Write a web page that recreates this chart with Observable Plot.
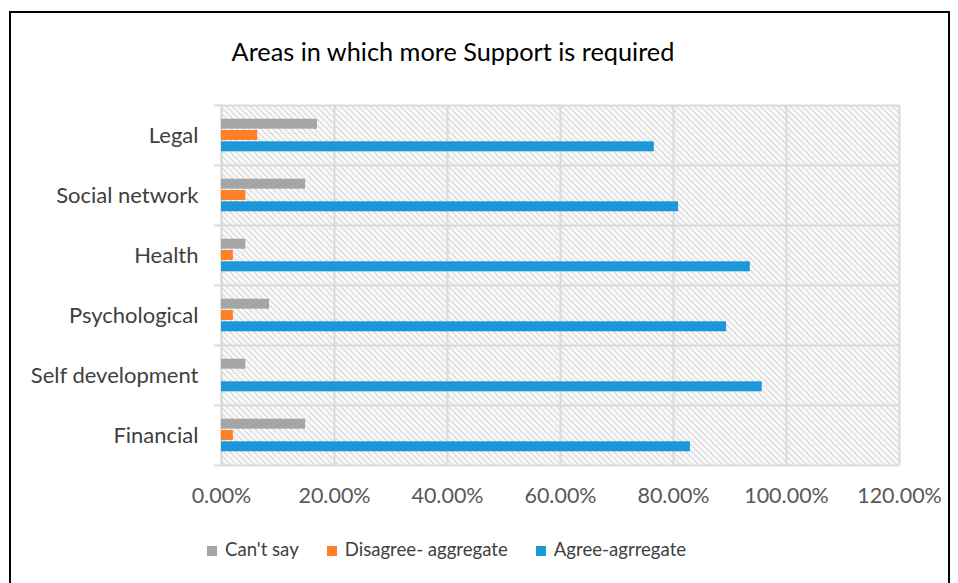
<!DOCTYPE html>
<html>
<head>
<meta charset="utf-8">
<script src="https://cdn.jsdelivr.net/npm/d3@7"></script>
<script src="https://cdn.jsdelivr.net/npm/@observablehq/plot@0.6"></script>
<style>
  html, body { margin: 0; padding: 0; background: #fff; }
  #wrap { position: relative; width: 958px; height: 583px; overflow: hidden; font-family: Lato, "Open Sans", sans-serif; }
  #wrap svg { position: absolute; left: 0; top: 0; }
  #frame { position: absolute; left: 9px; top: 11px; width: 941px; height: 620px; border: 2px solid #000; box-sizing: border-box; }
  #title { position: absolute; left: 0; width: 906px; top: 39px; text-align: center; font-size: 25.3px; color: #000; line-height: 1; }
  #legend { position: absolute; left: 207px; top: 540px; display: flex; font-size: 18.6px; color: #404040; line-height: 1; }
  #legend .item { display: flex; align-items: center; margin-right: 28px; }
  #legend .sw { width: 10px; height: 10px; margin-right: 8px; margin-top: 3px; }
</style>
</head>
<body>
<div id="wrap">
  <div id="frame"></div>
  <div id="title"></div>
  <div id="legend"></div>
</div>
<script>
const title = "Areas in which more Support is required";
const categories = ["Legal", "Social network", "Health", "Psychological", "Self development", "Financial"];
const seriesNames = ["Can't say", "Disagree- aggregate", "Agree-agrregate"];
const cantSay  = [17.0, 14.9, 4.3, 8.5, 4.3, 14.9];
const disagree = [6.4, 4.3, 2.1, 2.1, 0.0, 2.1];
const agree    = [76.6, 80.9, 93.6, 89.4, 95.7, 83.0];
const xTicks = [0, 20, 40, 60, 80, 100, 120];
const colors = ["#a5a5a5", "#ff7f27", "#1b98d9"];

const seriesValues = [cantSay, disagree, agree];
const rows = [];
seriesNames.forEach((s, si) => categories.forEach((c, ci) => rows.push({category: c, series: s, value: seriesValues[si][ci]})));

const offsets = [-11.3, 0, 11.3];
const grid = "#d9d9d9";

const barMarks = seriesNames.map((s, si) =>
  Plot.barX(rows.filter(r => r.series === s), {
    x: "value", y: "category", fill: colors[si],
    insetTop: 25, insetBottom: 25, dy: offsets[si]
  })
);

const chart = Plot.plot({
  width: 958,
  height: 583,
  marginTop: 105,
  marginBottom: 118,
  marginLeft: 221,
  marginRight: 59,
  style: { fontFamily: "Lato, 'Open Sans', sans-serif", background: "transparent", overflow: "visible" },
  x: { domain: [0, 120], ticks: xTicks, tickFormat: d => d.toFixed(2) + "%", tickSize: 0, tickPadding: 22.7, label: null },
  y: { domain: categories, padding: 0, tickSize: 0, tickPadding: 23, label: null },
  marks: [
    Plot.frame({ fill: "url(#hatch)", stroke: "none" }),
    Plot.gridX({ ticks: xTicks, stroke: grid, strokeOpacity: 1, strokeWidth: 2 }),
    Plot.ruleY(categories, { y: d => d, dy: 30, insetLeft: -7, stroke: grid, strokeWidth: 2 }),
    Plot.ruleY([categories[0]], { y: d => d, dy: -30, insetLeft: -7, stroke: grid, strokeWidth: 2 }),
    Plot.ruleX([0], { stroke: grid, strokeWidth: 2 }),
    ...barMarks
  ]
});

// hatch pattern
const svgSel = d3.select(chart);
const pat = svgSel.insert("defs", ":first-child").append("pattern")
  .attr("id", "hatch").attr("patternUnits", "userSpaceOnUse")
  .attr("width", 6).attr("height", 6);
pat.append("rect").attr("width", 6).attr("height", 6).attr("fill", "#ffffff");
pat.append("path").attr("d", "M0,0L6,6M-1,5L1,7M5,-1L7,1")
  .attr("stroke", "#d2d2d2").attr("stroke-width", 1.3);
pat.append("rect").attr("x", 3).attr("y", 0).attr("width", 1).attr("height", 1).attr("fill", "#dedede");

// axis text styling
svgSel.selectAll("g[aria-label='x-axis tick label']").attr("fill", "#595959").attr("font-size", 21.5);
svgSel.selectAll("g[aria-label='y-axis tick label']").attr("fill", "#404040").attr("font-size", 22);

document.getElementById("wrap").appendChild(chart);
document.getElementById("title").textContent = title;

const legend = document.getElementById("legend");
seriesNames.forEach((s, i) => {
  const item = document.createElement("div");
  item.className = "item";
  const sw = document.createElement("span");
  sw.className = "sw";
  sw.style.background = colors[i];
  const t = document.createElement("span");
  t.textContent = s;
  item.appendChild(sw);
  item.appendChild(t);
  legend.appendChild(item);
});
</script>
</body>
</html>
